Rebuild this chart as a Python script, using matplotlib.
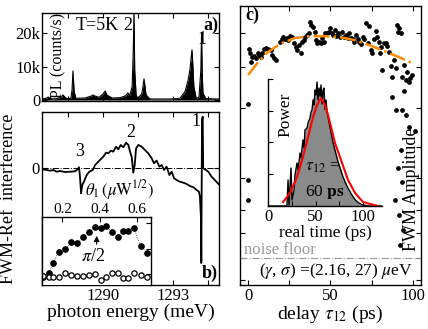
import numpy as np
import matplotlib
matplotlib.use('Agg')
import matplotlib.pyplot as plt

plt.rcParams['font.family'] = ['Liberation Serif', 'DejaVu Serif']
plt.rcParams['mathtext.fontset'] = 'stix'
plt.rcParams['xtick.direction'] = 'in'
plt.rcParams['ytick.direction'] = 'in'
plt.rcParams['axes.linewidth'] = 1.0

# ---- panel a: PL spectrum
pl_energy = [1287.38, 1287.55, 1287.64, 1287.72, 1287.81, 1288.03, 1288.2, 1288.28, 1288.36, 1288.45,
             1288.62, 1288.67, 1288.71, 1288.76, 1288.84, 1289.23, 1289.5, 1289.57, 1289.65, 1289.83,
             1290.0, 1290.09, 1290.17, 1290.39, 1290.73, 1290.95, 1291.07, 1291.15, 1291.25, 1291.3,
             1291.33, 1291.36, 1291.42, 1291.5, 1291.67, 1291.76, 1291.85, 1292.02, 1292.88, 1293.3,
             1293.52, 1293.65, 1293.73, 1293.82, 1293.86, 1293.9, 1294.0, 1294.12, 1294.2, 1294.23,
             1294.26, 1294.29, 1294.42, 1294.98]
pl_counts = [300, 500, 900, 600, 300, 400, 900, 1500, 900, 400,
             500, 3000, 8700, 2500, 500, 600, 1200, 1500, 1200, 800,
             1800, 2700, 1500, 600, 700, 1200, 2100, 1400, 4000, 15000,
             27000, 9000, 1500, 400, 2000, 6300, 1500, 300, 300, 500,
             2500, 5800, 9000, 15000, 10000, 4000, 500, 800, 9000, 20000,
             8000, 2000, 400, 300]

# ---- panel b: FWM-Ref interference spectrum
b_energy = [1287.41, 1287.58, 1287.73, 1287.87, 1288.01, 1288.15, 1288.37, 1288.58, 1288.80, 1288.91,
            1288.97, 1289.01, 1289.06, 1289.11, 1289.18, 1289.30, 1289.41, 1289.56, 1289.66, 1289.73,
            1289.87, 1290.01, 1290.13, 1290.23, 1290.33, 1290.44, 1290.56, 1290.66, 1290.76, 1290.87,
            1290.99, 1291.09, 1291.16, 1291.23, 1291.30, 1291.36, 1291.42, 1291.52, 1291.66, 1291.80,
            1291.94, 1292.09, 1292.19, 1292.30, 1292.42, 1292.52, 1292.62, 1292.73, 1292.85, 1292.95,
            1293.05, 1293.16, 1293.30, 1293.45, 1293.59, 1293.73, 1293.88, 1294.02, 1294.12, 1294.16,
            1294.21, 1294.22, 1294.25, 1294.28, 1294.30, 1294.42, 1294.52, 1294.66, 1294.80, 1294.98]
b_signal = [-0.027, -0.039, -0.052, -0.039, -0.070, -0.057, -0.075, -0.070, -0.063, -0.027,
            0.009, -0.159, -0.457, -0.308, -0.249, -0.129, -0.070, -0.039, 0.050, 0.081,
            0.140, 0.199, 0.271, 0.260, 0.306, 0.289, 0.378, 0.332, 0.409, 0.367,
            0.450, 0.409, 0.289, 0.199, -0.088, 0.050, 0.350, 0.409, 0.378, 0.319,
            0.260, 0.170, 0.081, 0.130, 0.020, 0.050, -0.039, 0.020, -0.129, -0.070,
            -0.188, -0.219, -0.249, -0.267, -0.290, -0.326, -0.349, -0.398, -0.428, -0.518,
            -0.935, -1.706, 0.857, 0.916, -0.009, -0.039, -0.070, -0.159, -0.219, -0.300]

# ---- inset b: amplitude vs theta_1
theta = [0.094, 0.126, 0.151, 0.18, 0.216, 0.247, 0.277, 0.31, 0.342, 0.373,
         0.405, 0.432, 0.469, 0.499, 0.526, 0.553, 0.584, 0.62, 0.652]
amp_filled = [0.895, 1.05, 1.44, 1.88, 1.97, 2.27, 2.21, 2.44, 2.66, 2.86,
              2.79, 2.88, 2.66, 2.44, 2.70, 2.70, 2.79, 2.10, 1.84]
amp_open = [0.92, 0.895, 0.87, 0.87, 1.05, 0.96, 0.92, 0.92, 0.96, 1.0,
            0.77, 0.895, 1.03, 1.05, 0.83, 0.83, 1.05, 0.96, 0.895]

# ---- panel c: FWM amplitude vs delay
delay = [0.2, 0.8, 1.8, 2.6, 3.8, 4.6, 5.8, 6.6, 7.8, 8.6, 9.8, 10.6, 12.2, 13.9, 14.7, 15.9, 16.9,
         19.3, 20.3, 21.3, 22.3, 23.3, 24.3, 25.3, 26.7, 27.9, 28.9, 29.9, 30.7, 31.9, 32.7, 33.9,
         34.7, 35.9, 36.9, 37.8, 38.4, 39.4, 40.4, 41.4, 42.0, 42.8, 44.0, 44.8, 46.0, 46.8, 48.0,
         48.8, 50.0, 50.8, 51.8, 52.8, 53.6, 54.8, 56.0, 56.8, 58.0, 59.4, 60.4, 61.4, 62.4, 63.5,
         64.5, 65.5, 66.5, 67.5, 68.5, 69.5, 70.5, 71.5, 72.5, 73.5, 74.5, 75.5, 76.5, 77.5, 78.5,
         79.5, 80.1, 80.9, 81.5, 82.5, 83.5, 84.5, 85.5, 86.5, 87.6, 88.6, 89.6, 90.6, 91.2, 91.6,
         92.6, 93.6, 94.6, 95.6, 96.6, 97.6, 98.6, 99.6,
         0.0, 0.0, 0.0, 87.3, 94.6,
         89.8, 93.4, 95.8, 97.6, 101.2, 92.8, 91.0, 93.5, 89.5, 91.6, 94.0, 92.0]
fwm_amp = [84.5, 83.0, 80.0, 81.6, 82.1, 81.2, 83.0, 82.4, 81.8, 83.0, 84.5, 84.8, 84.5, 84.2, 82.4, 81.2, 80.6,
           87.2, 88.1, 88.8, 88.1, 88.4, 87.8, 89.2, 89.0, 86.9, 85.4, 84.2, 86.0, 83.0, 87.2, 87.8,
           88.8, 89.6, 90.2, 94.4, 93.2, 92.6, 90.8, 87.8, 86.6, 87.2, 86.9, 88.4, 87.2, 90.2, 90.4,
           90.8, 92.0, 90.2, 89.6, 91.4, 89.2, 90.2, 89.0, 90.8, 89.0, 89.6, 88.4, 90.2, 88.4, 88.1,
           87.2, 89.6, 88.1, 87.2, 86.4, 89.0, 88.1, 93.8, 86.6, 92.8, 84.2, 83.0, 88.1, 91.2, 89.0,
           87.2, 83.0, 85.4, 77.1, 86.6, 86.9, 85.7, 83.6, 78.5, 74.7, 80.6, 77.7, 93.2, 90.8, 92.0,
           90.2, 74.7, 78.9, 73.5, 76.5, 72.9, 74.1, 75.3,
           64.9, 37.6, 30.5, 67.4, 69.5,
           62.7, 62.7, 60.9, 56.6, 55.2, 48.4, 41.9, 36.9, 30.5, 25.1, 19.7, 14.3]
fit_delay = [0, 6, 12, 19.3, 28.3, 37.3, 46.4, 55.4, 64.5, 73.5, 82.5, 91.6, 99.4]
fit_amp = [75.3, 79.9, 83.5, 86.4, 88.5, 89.2, 89.2, 88.9, 87.8, 86.0, 83.9, 81.7, 79.6]
noise_floor = 9.7

# ---- inset c: pulse shape in real time
rt = [0, 17.9, 20, 21.1, 22.1, 24.2, 25.3, 27.4, 28.4, 30.5, 31.6, 33.7, 34.7, 36.8, 37.9, 38.9,
      41.1, 42.1, 44.2, 45.3, 46.3, 47.4, 48.4, 49.5, 50.5, 51.6, 52.6, 53.7, 54.7, 55.8, 56.8,
      57.9, 58.9, 60, 61.1, 62.1, 63.2, 65.3, 66.3, 68.4, 70.5, 72.6, 73.7, 75.8, 78.9, 81.1, 84.2,
      88.4, 91.6, 94.7, 98.9, 105.3, 120]
power = [0, 0, 0.008, 0.205, 0.008, 0.299, 0.047, 0.126, 0.244, 0.339, 0.283, 0.417, 0.378, 0.52,
         0.457, 0.598, 0.614, 0.654, 0.693, 0.74, 0.756, 0.835, 0.795, 0.913, 0.874, 0.976, 0.835,
         0.929, 0.866, 0.953, 0.803, 0.913, 0.929, 0.76, 0.835, 0.74, 0.70, 0.62, 0.58, 0.50,
         0.44, 0.38, 0.35, 0.30, 0.23, 0.19, 0.14, 0.085, 0.05, 0.028, 0.01, 0, 0]
rt_fit = [15.8, 23.2, 30.5, 36.8, 42.1, 47.4, 51.6, 55.8, 60, 63.2, 70.5, 77.9, 84.2, 91.6, 100, 115.8]
power_fit = [0.031, 0.102, 0.228, 0.386, 0.543, 0.701, 0.795, 0.85, 0.795, 0.717, 0.496, 0.339,
             0.205, 0.102, 0.031, 0.0]

fig = plt.figure(figsize=(4.28, 3.29), dpi=100)
tick_kw = dict(direction='in', top=True, right=True, length=3.5, width=0.8, labelsize=12)

# panel a
ax_a = fig.add_axes([0.0981, 0.693, 0.4136, 0.2675])
ax_a.fill_between(pl_energy, pl_counts, color='black', lw=0)
ax_a.plot(pl_energy, pl_counts, color='black', lw=0.8)
ax_a.set_xlim(1287.38, 1294.98)
ax_a.set_ylim(-300, 26000)
ax_a.set_xticks([1288.5, 1290, 1291.5, 1293, 1294.5])
ax_a.set_xticklabels([])
ax_a.set_yticks([0, 10000, 20000])
ax_a.set_yticklabels(['0', '10k', '20k'])
ax_a.tick_params(**tick_kw, pad=1)
ax_a.text(0.09, 0.52, 'PL (counts/s)', rotation=90, transform=ax_a.transAxes,
          ha='center', va='center', fontsize=11.5)
ax_a.text(0.19, 0.86, 'T=5K', transform=ax_a.transAxes, ha='left', va='center', fontsize=13)
ax_a.text(0.46, 0.86, '2', transform=ax_a.transAxes, ha='left', va='center', fontsize=13)
ax_a.text(0.88, 0.70, '1', transform=ax_a.transAxes, ha='left', va='center', fontsize=13)
ax_a.text(0.995, 0.86, 'a)', transform=ax_a.transAxes, ha='right', va='center',
          fontsize=13, fontweight='bold')

# panel b
ax_b = fig.add_axes([0.0981, 0.1337, 0.4136, 0.5259])
ax_b.plot(b_energy, b_signal, color='black', lw=1.3)
ax_b.axhline(0, color='black', lw=0.7, ls='-.')
ax_b.set_xlim(1287.38, 1294.98)
ax_b.set_ylim(-2.1, 1.0)
ax_b.set_xticks([1288.5, 1290, 1291.5, 1293, 1294.5])
ax_b.set_xticklabels(['', '1290', '', '1293', ''])
ax_b.set_yticks([0])
ax_b.set_yticklabels(['0'])
ax_b.tick_params(**tick_kw, pad=2)
ax_b.set_xlabel('photon energy (meV)', fontsize=14, labelpad=0)
ax_b.text(-0.19, 0.5, 'FWM-Ref  interference', rotation=90, transform=ax_b.transAxes,
          ha='center', va='center', fontsize=13)
ax_b.text(1289.0, 0.14, '3', ha='center', va='bottom', fontsize=13)
ax_b.text(1291.2, 0.48, '2', ha='center', va='bottom', fontsize=13)
ax_b.text(1294.0, 0.68, '1', ha='center', va='bottom', fontsize=13)
ax_b.text(0.995, 0.07, 'b)', transform=ax_b.transAxes, ha='right', va='center',
          fontsize=13, fontweight='bold')
ax_b.text(1290.72, -0.40, r'$\theta_1\,(\mu\mathrm{W}^{1/2})$', ha='center', va='center', fontsize=12)

# inset b
ax_bi = fig.add_axes([0.0981, 0.1337, 0.2547, 0.2067])
ax_bi.plot(theta, amp_filled, color='black', lw=0.5, ls=':', marker='o', ms=3.8)
ax_bi.plot(theta, amp_open, ls='none', marker='o', ms=3.8, mfc='white', mec='black', mew=0.9)
ax_bi.set_xlim(0.09, 0.676)
ax_bi.set_ylim(0.57, 3.24)
ax_bi.set_xticks([0.2, 0.4, 0.6])
ax_bi.set_yticks([1, 2, 3])
ax_bi.set_yticklabels([])
ax_bi.xaxis.tick_top()
ax_bi.yaxis.tick_right()
ax_bi.tick_params(direction='in', length=3.5, width=0.8, labelsize=11, pad=1)
ax_bi.spines['bottom'].set_visible(False)
ax_bi.annotate('', xy=(0.384, 2.61), xytext=(0.384, 2.06),
               arrowprops=dict(arrowstyle='-|>', color='black', lw=0.8, mutation_scale=8))
ax_bi.text(0.362, 1.67, r'$\pi$/2', ha='center', va='center', fontsize=13)

# panel c
ax_c = fig.add_axes([0.5607, 0.1337, 0.4229, 0.848])
ax_c.plot(delay, fwm_amp, ls='none', marker='o', ms=2.4, color='black')
ax_c.plot(fit_delay, fit_amp, color='#ff8c00', lw=1.8, ls='-.')
ax_c.axhline(noise_floor, color='#999999', lw=0.8, ls='-.')
ax_c.set_xlim(-5, 105)
ax_c.set_ylim(0, 100)
ax_c.set_xticks([0, 25, 50, 75, 100])
ax_c.set_xticklabels(['0', '', '50', '', '100'])
ax_c.set_yticks([1.8, 9.7, 18.6, 26.9, 38.4, 49.5, 63.4, 78.1, 90.3])
ax_c.set_yticklabels([])
ax_c.tick_params(**tick_kw, pad=2)
ax_c.set_xlabel(r'delay $\tau_{12}$ (ps)', fontsize=14, labelpad=0)
ax_c.text(0.02, 0.125, 'noise floor', transform=ax_c.transAxes, color='#999999',
          ha='left', va='center', fontsize=12)
ax_c.text(0.53, 0.05, r'($\gamma$, $\sigma$) =(2.16, 27) $\mu$eV', transform=ax_c.transAxes,
          ha='center', va='center', fontsize=12.5)
ax_c.text(0.945, 0.345, 'FWM Amplitude', rotation=90, transform=ax_c.transAxes,
          ha='center', va='center', fontsize=13)
ax_c.text(0.03, 0.965, 'c)', transform=ax_c.transAxes, ha='left', va='center',
          fontsize=13, fontweight='bold')

# inset c
ax_ci = fig.add_axes([0.6262, 0.3739, 0.2664, 0.386])
ax_ci.patch.set_alpha(0)
ax_ci.fill_between(rt, power, color='#8a8a8a', lw=0)
ax_ci.plot(rt, power, color='black', lw=1.0)
ax_ci.plot(rt_fit, power_fit, color='red', lw=1.5)
ax_ci.set_xlim(0, 120)
ax_ci.set_ylim(0, 1.0)
ax_ci.set_xticks([0, 25, 50, 75, 100])
ax_ci.set_xticklabels(['0', '', '50', '', '100'])
ax_ci.set_yticks([0.25, 0.5, 0.75, 1.0])
ax_ci.set_yticklabels([])
ax_ci.spines['top'].set_visible(False)
ax_ci.spines['right'].set_visible(False)
ax_ci.tick_params(direction='in', length=3.5, width=0.8, labelsize=12, pad=2)
ax_ci.set_xlabel('real time (ps)', fontsize=12.5, labelpad=0)
ax_ci.text(0.15, 0.72, 'Power', rotation=90, transform=ax_ci.transAxes,
           ha='center', va='center', fontsize=12.5)
ax_ci.text(58, 0.31, r'$\tau_{12}$ =', ha='center', va='center', fontsize=12.5)
ax_ci.text(60, 0.11, r'60 $\mathbf{ps}$', ha='center', va='center', fontsize=12.5)

fig.savefig('out.png', dpi=100)
